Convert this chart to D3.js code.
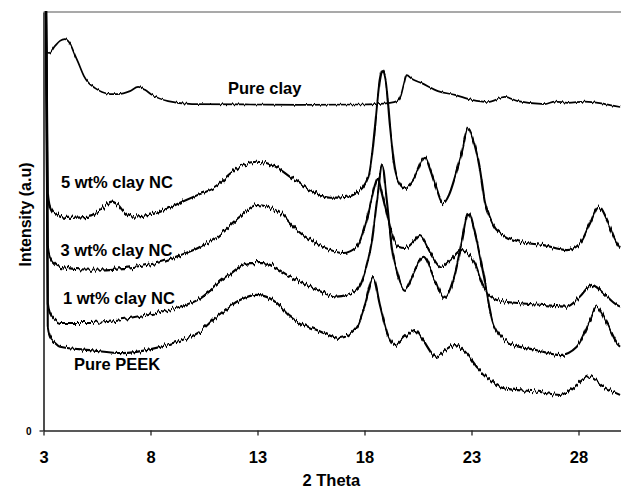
<!DOCTYPE html>
<html><head><meta charset="utf-8">
<script src="https://cdn.jsdelivr.net/npm/d3@7"></script>
<style>
body{margin:0;background:#fff}
svg{display:block}
text{font-family:"Liberation Sans",Arial,Helvetica,sans-serif;font-weight:bold;fill:#000}
</style>
</head><body>
<svg id="chart" width="621" height="489"></svg>
<script>
// ---- data (2 Theta in degrees, intensity in arbitrary units) ----
const xTicks = [3, 8, 13, 18, 23, 28];
const yTicks = [0];
const xLabel = "2 Theta";
const yLabel = "Intensity (a.u)";
const seriesNames = ["Pure clay", "5 wt% clay NC", "3 wt% clay NC", "1 wt% clay NC", "Pure PEEK"];

const pureClay = [
  [3.05,115],[3.16,90.4],[3.26,90.2],[3.54,91.9],[3.77,93.1],[4.00,93.5],[4.24,92.4],[4.47,89.7],
  [4.61,88.1],[4.89,84.7],[5.08,83.2],[5.41,81.8],[5.73,80.9],[6.11,80.4],[6.48,80.4],[7.04,81.1],
  [7.42,82.1],[7.74,81.4],[8.07,80.2],[8.82,78.7],[9.94,78.0],[12.65,77.9],[14.99,77.8],[17.79,77.9],
  [19.19,78.3],[19.52,78.7],[19.71,80.2],[19.85,83.0],[19.97,84.9],[20.22,84.0],[20.67,83.0],[21.43,81.1],
  [22.23,80.2],[23.02,79.0],[23.77,78.5],[24.56,79.7],[25.17,78.7],[26.43,78.0],[26.90,78.6],[27.51,78.3],
  [28.30,78.6],[29.24,78.0],[29.95,77.3]
];
const clay5 = [
  [3.10,115],[3.20,57.0],[3.30,53.6],[3.54,51.7],[4.08,50.8],[5.17,51.1],[5.50,52.0],[5.85,53.6],[6.19,54.7],
  [6.50,53.8],[6.80,52.0],[7.18,51.1],[8.29,52.0],[9.38,54.4],[10.22,56.3],[11.09,58.3],[11.71,61.1],[12.32,63.4],
  [12.96,64.2],[13.72,63.4],[14.52,60.6],[15.45,57.5],[16.39,55.6],[17.09,55.8],[17.64,56.8],[18.18,60.6],
  [18.35,65.8],[18.49,72.6],[18.72,83.8],[18.83,86.1],[18.99,83.8],[19.19,72.6],[19.43,62.2],[19.66,58.9],
  [19.89,57.9],[20.28,59.9],[20.83,65.4],[21.06,62.7],[21.29,59.1],[21.68,54.3],[21.95,56.3],[22.23,60.6],
  [22.54,66.3],[22.85,72.2],[23.08,69.4],[23.40,62.2],[23.63,54.4],[23.87,50.8],[24.18,47.9],[25.27,45.1],
  [26.36,44.3],[27.45,43.1],[28.07,44.7],[28.54,49.5],[28.93,53.5],[29.32,50.3],[29.71,45.5],[29.94,43.5]
];
const clay3 = [
  [3.10,115],[3.20,44.0],[3.30,41.5],[3.54,39.8],[3.77,39.1],[5.17,38.4],[6.71,38.8],[8.29,40.0],
  [9.38,41.9],[10.22,43.6],[11.09,46.3],[12.18,51.1],[12.96,53.9],[14.05,52.0],[14.83,47.9],[16.06,43.9],
  [17.00,42.4],[17.64,43.9],[18.16,51.5],[18.49,58.7],[18.62,60.3],[18.77,57.5],[18.96,53.5],[19.27,47.2],
  [19.58,43.9],[19.89,43.6],[20.27,45.0],[20.59,46.7],[21.06,42.7],[21.61,39.1],[22.00,40.7],[22.54,43.1],
  [22.84,42.2],[23.16,40.0],[23.55,34.4],[24.18,31.2],[25.27,30.4],[26.36,30.0],[27.45,29.6],[28.07,32.0],
  [28.62,34.8],[29.16,32.8],[29.79,30.0],[29.94,29.6]
];
const clay1 = [
  [3.10,115],[3.20,30.5],[3.30,28.1],[3.54,26.4],[3.77,25.7],[5.17,25.7],[6.71,26.4],[8.29,28.1],
  [9.38,29.6],[10.22,31.2],[11.39,36.0],[12.65,40.0],[13.26,40.0],[14.52,36.8],[15.77,33.6],[16.70,32.0],
  [17.64,33.6],[18.03,37.9],[18.35,45.5],[18.59,55.1],[18.83,63.4],[19.04,55.1],[19.27,43.9],[19.57,36.8],
  [19.89,33.6],[20.27,37.2],[20.75,41.5],[21.29,36.0],[21.73,31.7],[22.23,37.6],[22.56,45.5],[22.85,52.0],
  [23.16,47.2],[23.55,37.6],[24.02,25.6],[24.80,20.8],[26.05,19.2],[27.14,18.0],[27.92,20.0],[28.54,26.4],
  [28.85,29.6],[29.32,25.6],[29.79,20.8],[29.94,20.0]
];
const purePEEK = [
  [3.10,115],[3.20,24.5],[3.30,22.4],[3.54,20.9],[3.77,20.0],[5.17,19.2],[6.71,18.5],[7.82,19.2],
  [9.05,20.9],[10.22,23.3],[11.09,27.2],[12.18,31.2],[12.96,32.4],[13.90,30.5],[14.52,27.2],[15.77,24.0],
  [16.86,22.1],[17.64,24.8],[18.02,30.0],[18.41,36.4],[18.72,30.0],[19.10,22.8],[19.43,20.4],[19.89,22.3],
  [20.36,24.0],[20.67,22.1],[21.37,17.6],[21.76,19.2],[22.23,20.4],[22.70,18.8],[23.30,14.9],[23.77,12.5],
  [24.49,10.1],[26.05,9.3],[27.14,8.5],[27.92,10.9],[28.46,12.9],[29.16,10.5],[29.94,8.5]
];
const seriesData = [pureClay, clay5, clay3, clay1, purePEEK];

// ---- layout ----
const W = 621, H = 489;
const plot = {left: 43.5, right: 621.3, top: 12, bottom: 430.5};
const labelPos = [
  {x: 228, y: 94}, {x: 61, y: 188}, {x: 60.5, y: 256}, {x: 63, y: 304}, {x: 74, y: 370}
];
const fontSize = "16.5px";

const svg = d3.select("#chart");
const x = d3.scaleLinear().domain([3, 30]).range([plot.left, plot.right]);
const y = d3.scaleLinear().domain([0, 100]).range([plot.bottom, plot.top]);

const defs = svg.append("defs");
defs.append("clipPath").attr("id", "clip").append("rect")
  .attr("x", plot.left).attr("y", plot.top - 1)
  .attr("width", plot.right - plot.left).attr("height", plot.bottom - plot.top + 1);

function noiseFilter(id, scale, freq) {
  const f = defs.append("filter").attr("id", id)
    .attr("filterUnits", "userSpaceOnUse")
    .attr("x", 0).attr("y", 0).attr("width", W).attr("height", H)
    .attr("color-interpolation-filters", "sRGB");
  f.append("feTurbulence").attr("type", "fractalNoise")
    .attr("baseFrequency", freq).attr("numOctaves", 2).attr("seed", 7).attr("result", "t");
  f.append("feColorMatrix").attr("in", "t").attr("type", "matrix")
    .attr("values", "0 0 0 0 0.5  0 1 0 0 0  0 0 0 0 0  0 0 0 0 1").attr("result", "m");
  f.append("feDisplacementMap").attr("in", "SourceGraphic").attr("in2", "m")
    .attr("scale", scale).attr("xChannelSelector", "R").attr("yChannelSelector", "G");
}
noiseFilter("noiseStrong", 8, "0.5 0.02");
noiseFilter("noiseWeak", 3.5, "0.5 0.02");

// top frame line
svg.append("line")
  .attr("x1", plot.left).attr("x2", W).attr("y1", plot.top).attr("y2", plot.top)
  .attr("stroke", "#8c8c8c").attr("stroke-width", 1.5);

// curves
const line = d3.line().x(d => x(d[0])).y(d => y(d[1])).curve(d3.curveMonotoneX);
const clipG = svg.append("g").attr("clip-path", "url(#clip)");
seriesData.forEach((s, i) => {
  clipG.append("g").attr("filter", i === 0 ? "url(#noiseWeak)" : "url(#noiseStrong)")
    .append("path").datum(s)
    .attr("d", line)
    .attr("fill", "none")
    .attr("stroke", "#000")
    .attr("stroke-width", i === 0 ? 1.7 : 2.1)
    .attr("stroke-linejoin", "round");
});

// axes
const xAxis = svg.append("g").attr("transform", `translate(0,${plot.bottom})`)
  .call(d3.axisBottom(x).tickValues(xTicks).tickSize(5).tickSizeOuter(0).tickFormat(d3.format("d")));
xAxis.select(".domain").attr("stroke", "#222").attr("stroke-width", 1.6);
xAxis.selectAll(".tick line").attr("stroke", "#222").attr("stroke-width", 1.3);
xAxis.selectAll(".tick text").attr("y", 32.5).attr("dy", 0)
  .style("font-size", fontSize).style("font-family", '"Liberation Sans",Arial,sans-serif').style("font-weight", "bold");

const yAxis = svg.append("g").attr("transform", `translate(${plot.left},0)`)
  .call(d3.axisLeft(y).tickValues(yTicks).tickSize(4).tickPadding(8).tickSizeOuter(0));
yAxis.select(".domain").attr("stroke", "#222").attr("stroke-width", 1.6);
yAxis.selectAll(".tick line").attr("stroke", "#222").attr("stroke-width", 1.3);
yAxis.selectAll(".tick text").attr("dy", "0.36em")
  .style("font-size", "10px").style("font-family", '"Liberation Sans",Arial,sans-serif').style("font-weight", "bold");

// axis titles
svg.append("text").attr("x", (plot.left + plot.right) / 2 - 1).attr("y", 486)
  .attr("text-anchor", "middle").style("font-size", fontSize).text(xLabel);
svg.append("text").attr("transform", "translate(31,214.5) rotate(-90)")
  .attr("text-anchor", "middle").style("font-size", "16px").text(yLabel);

// series labels
seriesNames.forEach((n, i) => {
  svg.append("text").attr("x", labelPos[i].x).attr("y", labelPos[i].y)
    .style("font-size", fontSize).text(n);
});
</script>
</body></html>
